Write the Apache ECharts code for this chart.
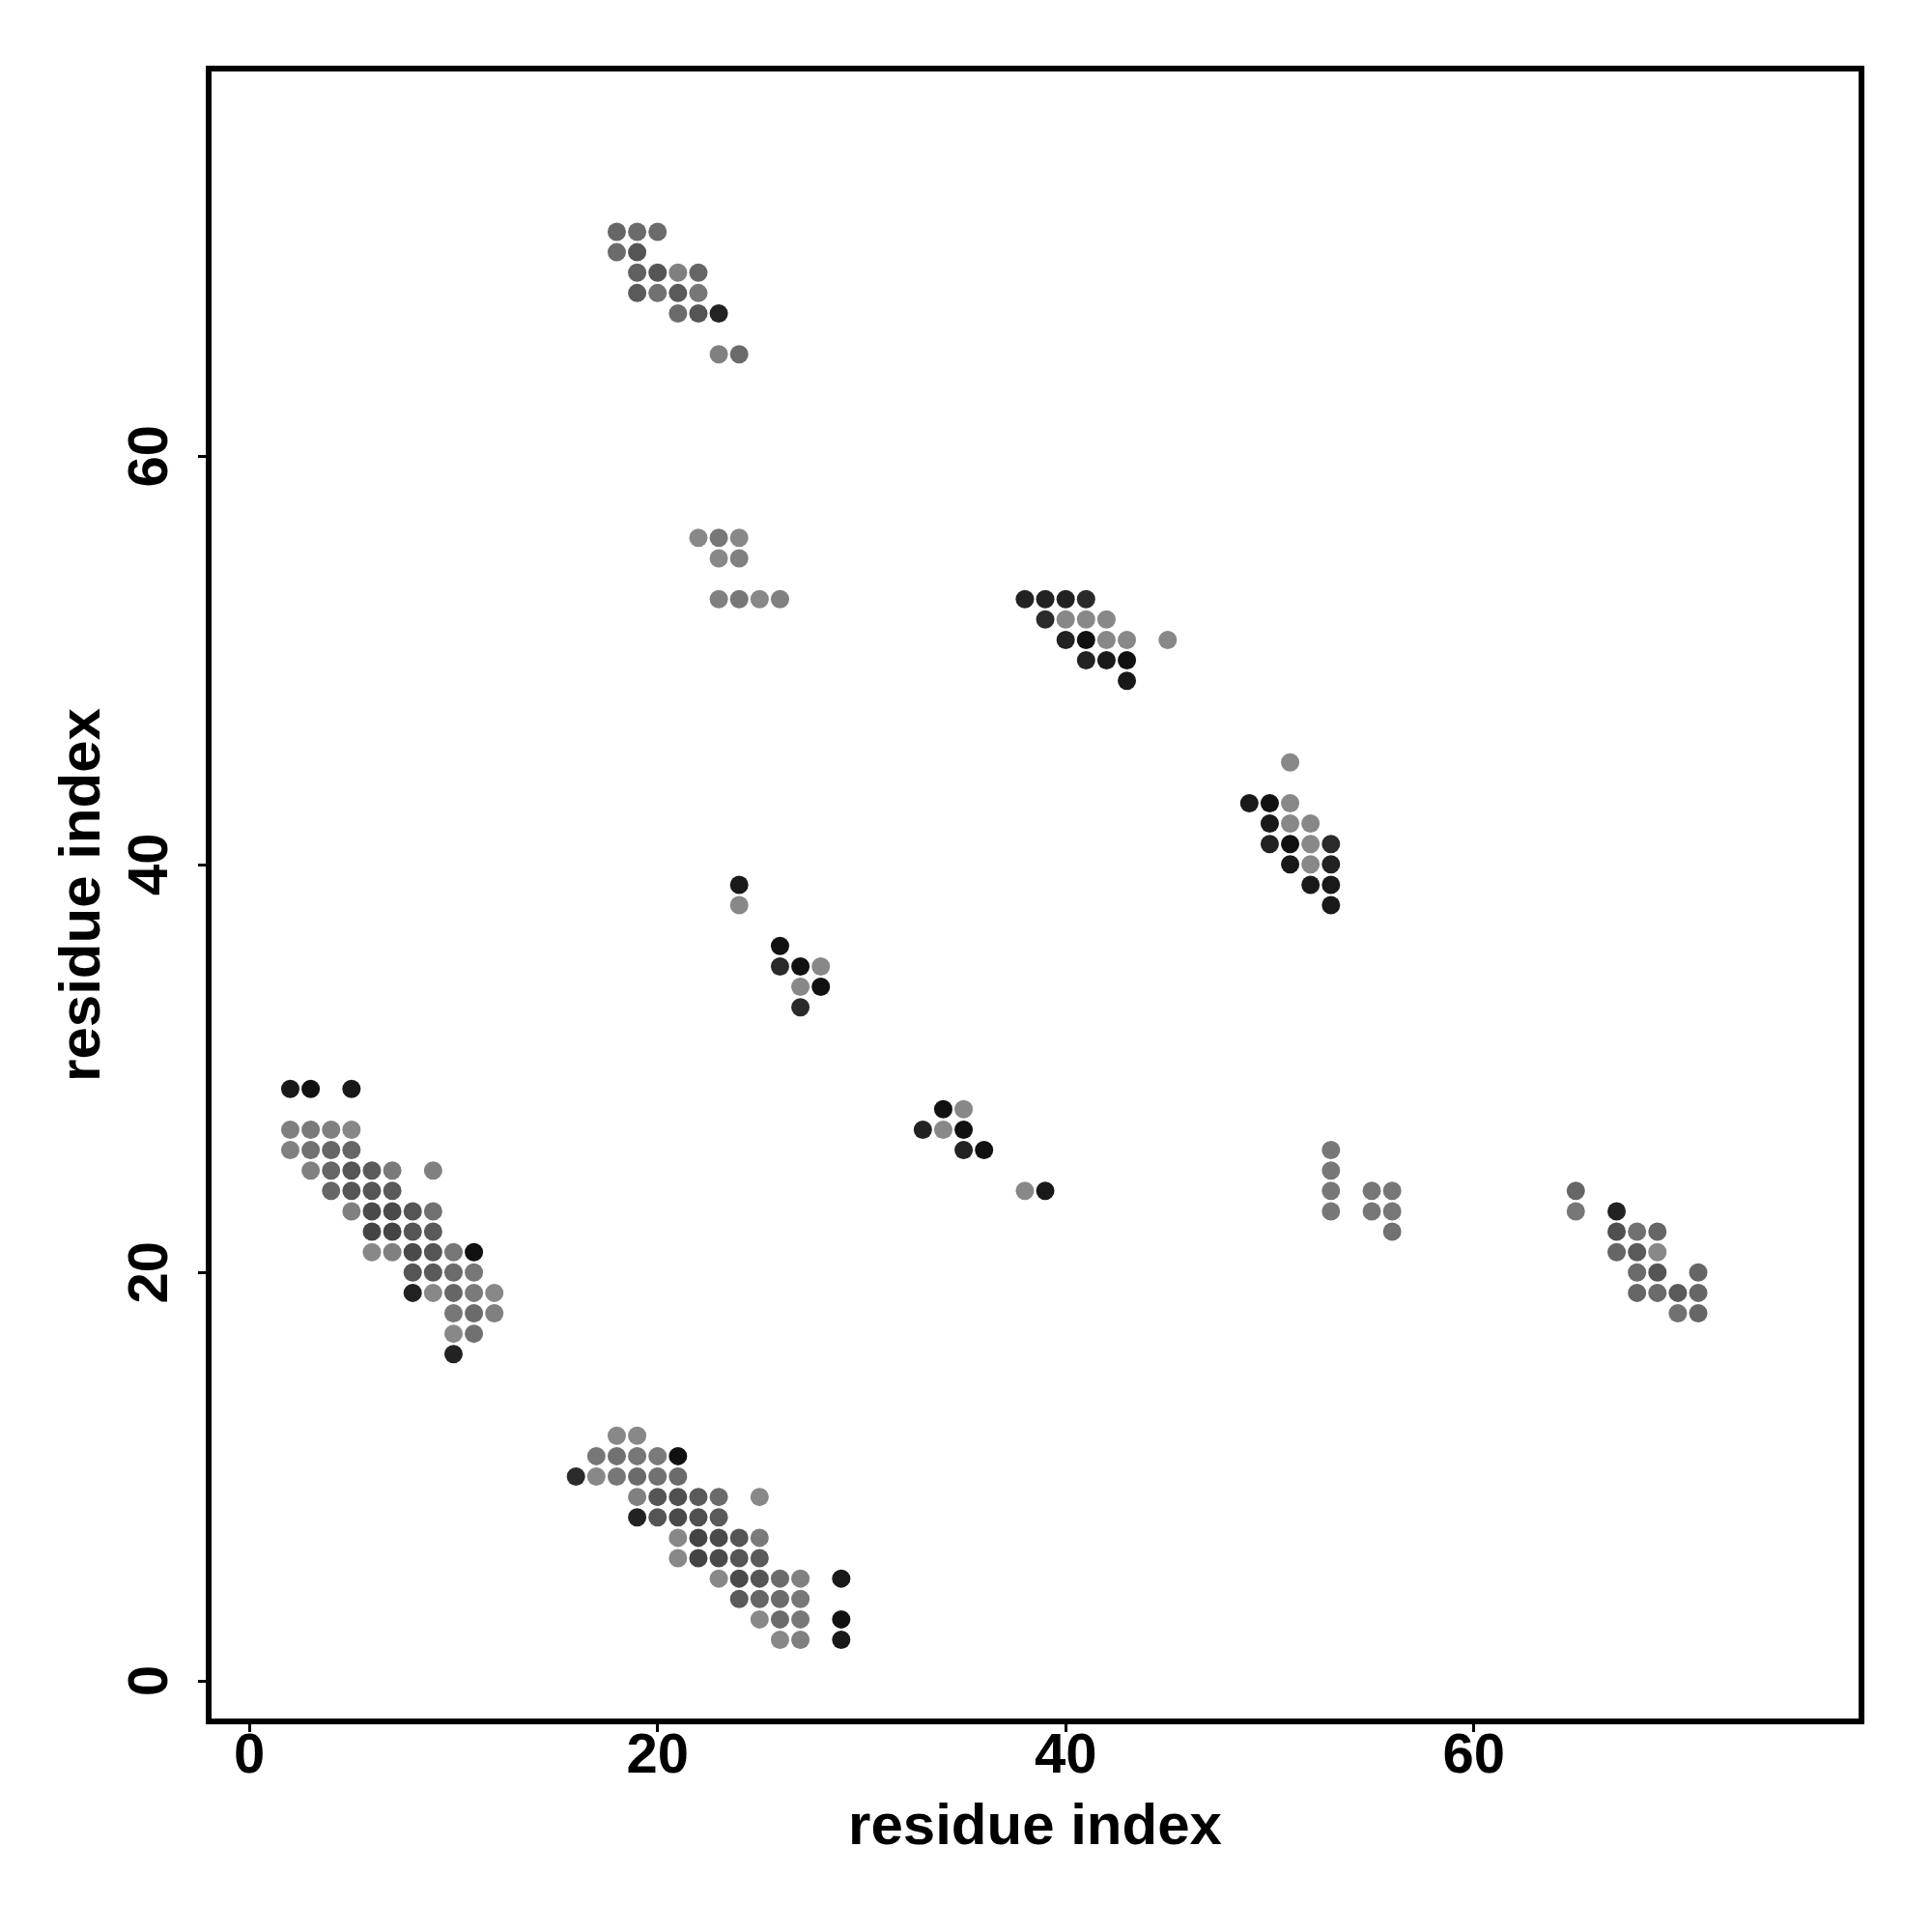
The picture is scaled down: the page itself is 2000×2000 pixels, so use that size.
<!DOCTYPE html>
<html>
<head>
<meta charset="utf-8">
<script src="https://cdn.jsdelivr.net/npm/echarts@6/dist/echarts.min.js"></script>
<style>
  html, body { margin: 0; padding: 0; background: #ffffff; }
  #chart { width: 2000px; height: 2000px; }
</style>
</head>
<body>
<div id="chart"></div>
<script>
// Each point: [residue i, residue j, grey score (0 = black, 1 = light grey)]
const clusterA = [
  [2,29,0.07],[3,29,0.0],[5,29,0.07],
  [2,27,0.92],[3,27,0.87],[4,27,0.92],[5,27,0.98],
  [2,26,0.92],[3,26,0.79],[4,26,0.70],[5,26,0.70],
  [3,25,0.92],[4,25,0.70],[5,25,0.56],[6,25,0.60],[7,25,0.87],[9,25,0.92],
  [4,24,0.70],[5,24,0.56],[6,24,0.56],[7,24,0.60],
  [5,23,0.92],[6,23,0.47],[7,23,0.47],[8,23,0.56],[9,23,0.79],
  [6,22,0.42],[7,22,0.42],[8,22,0.56],[9,22,0.60],
  [6,21,0.98],[7,21,0.92],[8,21,0.47],[9,21,0.56],[10,21,0.84],[11,21,0.0],
  [8,20,0.56],[9,20,0.60],[10,20,0.74],[11,20,0.84],
  [8,19,0.14],[9,19,0.98],[10,19,0.70],[11,19,0.87],[12,19,0.98],
  [10,18,0.84],[11,18,0.74],[12,18,0.92],
  [10,17,0.98],[11,17,0.79],
  [10,16,0.14]
];
const clusterB = [
  [18,12,0.98],[19,12,0.98],
  [17,11,0.84],[18,11,0.79],[19,11,0.84],[20,11,0.87],[21,11,0.0],
  [16,10,0.21],[17,10,0.98],[18,10,0.84],[19,10,0.74],[20,10,0.79],[21,10,0.74],
  [19,9,0.92],[20,9,0.56],[21,9,0.52],[22,9,0.60],[23,9,0.74],[25,9,0.98],
  [19,8,0.14],[20,8,0.56],[21,8,0.47],[22,8,0.52],[23,8,0.60],
  [21,7,0.98],[22,7,0.42],[23,7,0.47],[24,7,0.56],[25,7,0.87],
  [21,6,0.98],[22,6,0.42],[23,6,0.47],[24,6,0.56],[25,6,0.60],
  [23,5,0.98],[24,5,0.47],[25,5,0.56],[26,5,0.74],[27,5,0.92],[29,5,0.07],
  [24,4,0.60],[25,4,0.70],[26,4,0.74],[27,4,0.84],
  [25,3,0.98],[26,3,0.74],[27,3,0.84],[29,3,0.0],
  [26,2,0.98],[27,2,0.92],[29,2,0.07]
];
const clusterC = [
  [18,71,0.70],[19,71,0.74],[20,71,0.74],
  [18,70,0.74],[19,70,0.56],
  [19,69,0.65],[20,69,0.56],[21,69,0.92],[22,69,0.70],
  [19,68,0.60],[20,68,0.79],[21,68,0.60],[22,68,0.84],
  [21,67,0.74],[22,67,0.56],[23,67,0.14],
  [23,65,0.92],[24,65,0.74]
];
const clusterD = [
  [22,56,0.98],[23,56,0.84],[24,56,0.98],
  [23,55,0.98],[24,55,0.92],
  [23,53,0.92],[24,53,0.84],[25,53,0.98],[26,53,0.92]
];
const clusterE = [
  [38,53,0.14],[39,53,0.14],[40,53,0.14],[41,53,0.21],
  [39,52,0.21],[40,52,0.98],[41,52,0.98],[42,52,0.98],
  [40,51,0.14],[41,51,0.0],[42,51,0.98],[43,51,0.98],[45,51,0.98],
  [41,50,0.14],[42,50,0.07],[43,50,0.0],
  [43,49,0.07]
];
const clusterF = [
  [51,45,0.98],
  [49,43,0.07],[50,43,0.0],[51,43,0.98],
  [50,42,0.07],[51,42,0.98],[52,42,0.98],
  [50,41,0.14],[51,41,0.0],[52,41,0.98],[53,41,0.21],
  [51,40,0.07],[52,40,0.98],[53,40,0.14],
  [52,39,0.07],[53,39,0.07],
  [53,38,0.07]
];
const clusterG = [
  [24,39,0.07],[24,38,0.98],
  [26,36,0.0],
  [26,35,0.21],[27,35,0.0],[28,35,0.98],
  [27,34,0.98],[28,34,0.0],
  [27,33,0.21]
];
const clusterH = [
  [34,28,0.0],[35,28,0.98],
  [33,27,0.14],[34,27,0.98],[35,27,0.0],
  [35,26,0.14],[36,26,0.0],
  [38,24,0.98],[39,24,0.07]
];
const clusterI = [
  [53,26,0.84],[53,25,0.84],[53,24,0.84],[53,23,0.84],
  [55,24,0.84],[55,23,0.84],
  [56,24,0.84],[56,23,0.84],[56,22,0.79]
];
const clusterJ = [
  [65,24,0.70],[65,23,0.84],
  [67,23,0.14],[67,22,0.52],[67,21,0.70],
  [68,22,0.79],[68,21,0.60],[68,20,0.74],[68,19,0.70],
  [69,22,0.70],[69,21,0.98],[69,20,0.56],[69,19,0.74],
  [70,19,0.60],[70,18,0.79],
  [71,20,0.70],[71,19,0.70],[71,18,0.70]
];
const tickValues = [0, 20, 40, 60];
const axisTitle = 'residue index';

const allPoints = [].concat(clusterA, clusterB, clusterC, clusterD, clusterE,
                            clusterF, clusterG, clusterH, clusterI, clusterJ);

const FONT = 'Liberation Sans, Arial, Helvetica, sans-serif';

const chart = echarts.init(document.getElementById('chart'), null, {renderer: 'canvas'});
chart.setOption({
  backgroundColor: '#ffffff',
  animation: false,
  grid: {
    left: 216, top: 71, width: 1711, height: 1711,
    show: true, borderColor: '#000000', borderWidth: 6,
    backgroundColor: 'transparent',
    outerBoundsMode: 'none'
  },
  visualMap: {
    show: false, type: 'continuous', dimension: 2, min: 0, max: 1,
    inRange: { color: ['#111111', '#8a8a8a'] }
  },
  xAxis: {
    type: 'value', min: -2, max: 79, position: 'bottom',
    name: axisTitle, nameLocation: 'middle', nameGap: 80,
    nameTextStyle: { fontFamily: FONT, fontWeight: 'bold', fontSize: 60, color: '#000' },
    axisLine: { show: false, onZero: false },
    axisTick: { show: true, inside: false, customValues: tickValues, length: 11, lineStyle: { color: '#000', width: 3 } },
    axisLabel: { show: true, customValues: tickValues, margin: 8, fontFamily: FONT, fontWeight: 'bold', fontSize: 58, color: '#000' },
    splitLine: { show: false }
  },
  yAxis: {
    type: 'value', min: -2, max: 79, position: 'left',
    name: axisTitle, nameLocation: 'middle', nameGap: 100,
    nameTextStyle: { fontFamily: FONT, fontWeight: 'bold', fontSize: 60, color: '#000' },
    axisLine: { show: false, onZero: false },
    axisTick: { show: true, inside: false, customValues: tickValues, length: 11, lineStyle: { color: '#000', width: 3 } },
    axisLabel: { show: true, customValues: tickValues, rotate: 90, margin: 30, fontFamily: FONT, fontWeight: 'bold', fontSize: 58, color: '#000' },
    splitLine: { show: false }
  },
  series: [{
    type: 'scatter',
    symbol: 'circle',
    symbolSize: 19,
    data: allPoints,
    itemStyle: { opacity: 1 }
  }]
});
</script>
</body>
</html>
